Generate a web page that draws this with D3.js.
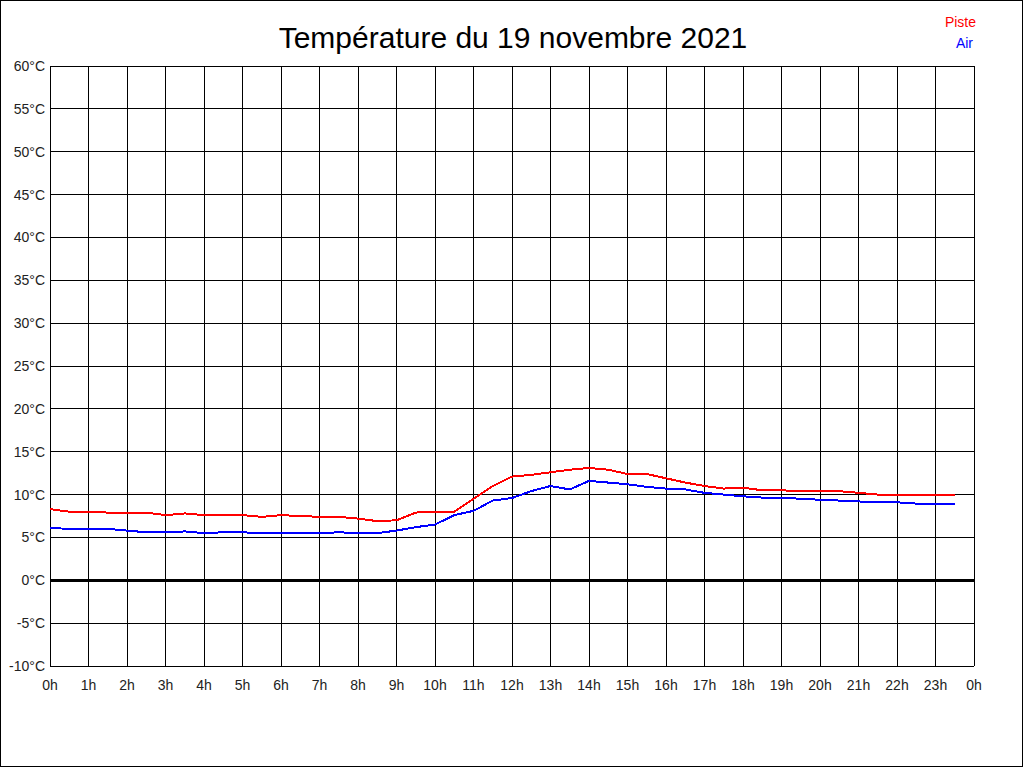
<!DOCTYPE html>
<html>
<head>
<meta charset="utf-8">
<script src="https://cdnjs.cloudflare.com/ajax/libs/d3/7.8.5/d3.min.js"></script>
<style>
  body { margin: 0; background: white; }
  text { font-family: "Liberation Sans", Arial, sans-serif; }
</style>
</head>
<body>
<svg id="chart" width="1024" height="768"></svg>
<script>
// heures (toutes les 30 min)
var heures = d3.range(0, 24, 0.5)
var piste = [8.3, 8.0, 8.0, 7.9, 7.8, 7.9, 7.6, 7.8, 7.6, 7.6, 7.6, 7.4,
             7.6, 7.5, 7.4, 7.4, 7.2, 6.9, 7.0, 7.9, 8.0, 8.0, 9.5, 11.0,
             12.1, 12.3, 12.6, 12.9, 13.1, 12.9, 12.4, 12.4, 11.9, 11.4, 11.0, 10.7,
             10.8, 10.5, 10.5, 10.4, 10.4, 10.4, 10.2, 10.0, 10.0, 10.0, 10.0, 10.0]
var air = [6.1, 6.0, 6.0, 6.0, 5.8, 5.6, 5.6, 5.7, 5.5, 5.6, 5.6, 5.5,
           5.5, 5.5, 5.5, 5.6, 5.5, 5.5, 5.8, 6.2, 6.5, 7.6, 8.1, 9.3,
           9.6, 10.4, 11.0, 10.6, 11.6, 11.4, 11.2, 10.9, 10.7, 10.6, 10.2, 10.0,
           9.8, 9.65, 9.65, 9.5, 9.4, 9.3, 9.2, 9.1, 9.1, 8.95, 8.95, 8.95]
var yTicks = d3.range(-10, 61, 5)
var xTicks = d3.range(0, 25, 1)
var titre = "Température du 19 novembre 2021"

var svg = d3.select("#chart")

var x = d3.scaleLinear().domain([0, 24]).range([50, 974])
var y = d3.scaleLinear().domain([-10, 60]).range([666, 66])

// cadre
svg.append("rect")
    .attr("x", 0.5).attr("y", 0.5)
    .attr("width", 1022).attr("height", 766)
    .attr("fill", "white").attr("stroke", "black")
    .attr("shape-rendering", "crispEdges")

svg.append("text")
    .attr("x", 513).attr("y", 48)
    .attr("text-anchor", "middle")
    .attr("font-size", "30px")
    .text(titre)

// grille
var grid = svg.append("g").attr("shape-rendering", "crispEdges")
grid.selectAll("line.h")
    .data(yTicks)
    .enter()
    .append("line")
    .attr("x1", x(0)).attr("x2", x(24))
    .attr("y1", function(d){return y(d)})
    .attr("y2", function(d){return y(d)})
    .attr("stroke", "black")
    .attr("stroke-width", function(d){return d == 0 ? 3 : 1})

grid.selectAll("line.v")
    .data(xTicks)
    .enter()
    .append("line")
    .attr("x1", function(d){return x(d)})
    .attr("x2", function(d){return x(d)})
    .attr("y1", y(60)).attr("y2", y(-10))
    .attr("stroke", "black")

// libellés
svg.append("g").selectAll("text")
    .data(yTicks)
    .enter()
    .append("text")
    .attr("x", 45)
    .attr("y", function(d){return y(d) + 5})
    .attr("text-anchor", "end")
    .attr("font-size", "14px")
    .attr("fill", "#222")
    .text(function(d){return d + "°C"})

svg.append("g").selectAll("text")
    .data(xTicks)
    .enter()
    .append("text")
    .attr("x", function(d){return x(d)})
    .attr("y", 690)
    .attr("text-anchor", "middle")
    .attr("font-size", "14px")
    .attr("fill", "#222")
    .text(function(d){return (d % 24) + "h"})

// courbes
var line = d3.line()
    .x(function(d,i){return x(heures[i])})
    .y(function(d){return y(d)})

svg.append("path")
    .datum(piste)
    .attr("d", line)
    .attr("fill", "none")
    .attr("stroke", "#ff0000")
    .attr("stroke-width", 2)
    .attr("shape-rendering", "crispEdges")

svg.append("path")
    .datum(air)
    .attr("d", line)
    .attr("fill", "none")
    .attr("stroke", "#0000ff")
    .attr("stroke-width", 2)
    .attr("shape-rendering", "crispEdges")

// légende
svg.append("text")
    .attr("x", 976).attr("y", 27)
    .attr("text-anchor", "end")
    .attr("font-size", "14px")
    .attr("fill", "red")
    .text("Piste")
svg.append("text")
    .attr("x", 973).attr("y", 48)
    .attr("text-anchor", "end")
    .attr("font-size", "14px")
    .attr("fill", "blue")
    .text("Air")
</script>
</body>
</html>
